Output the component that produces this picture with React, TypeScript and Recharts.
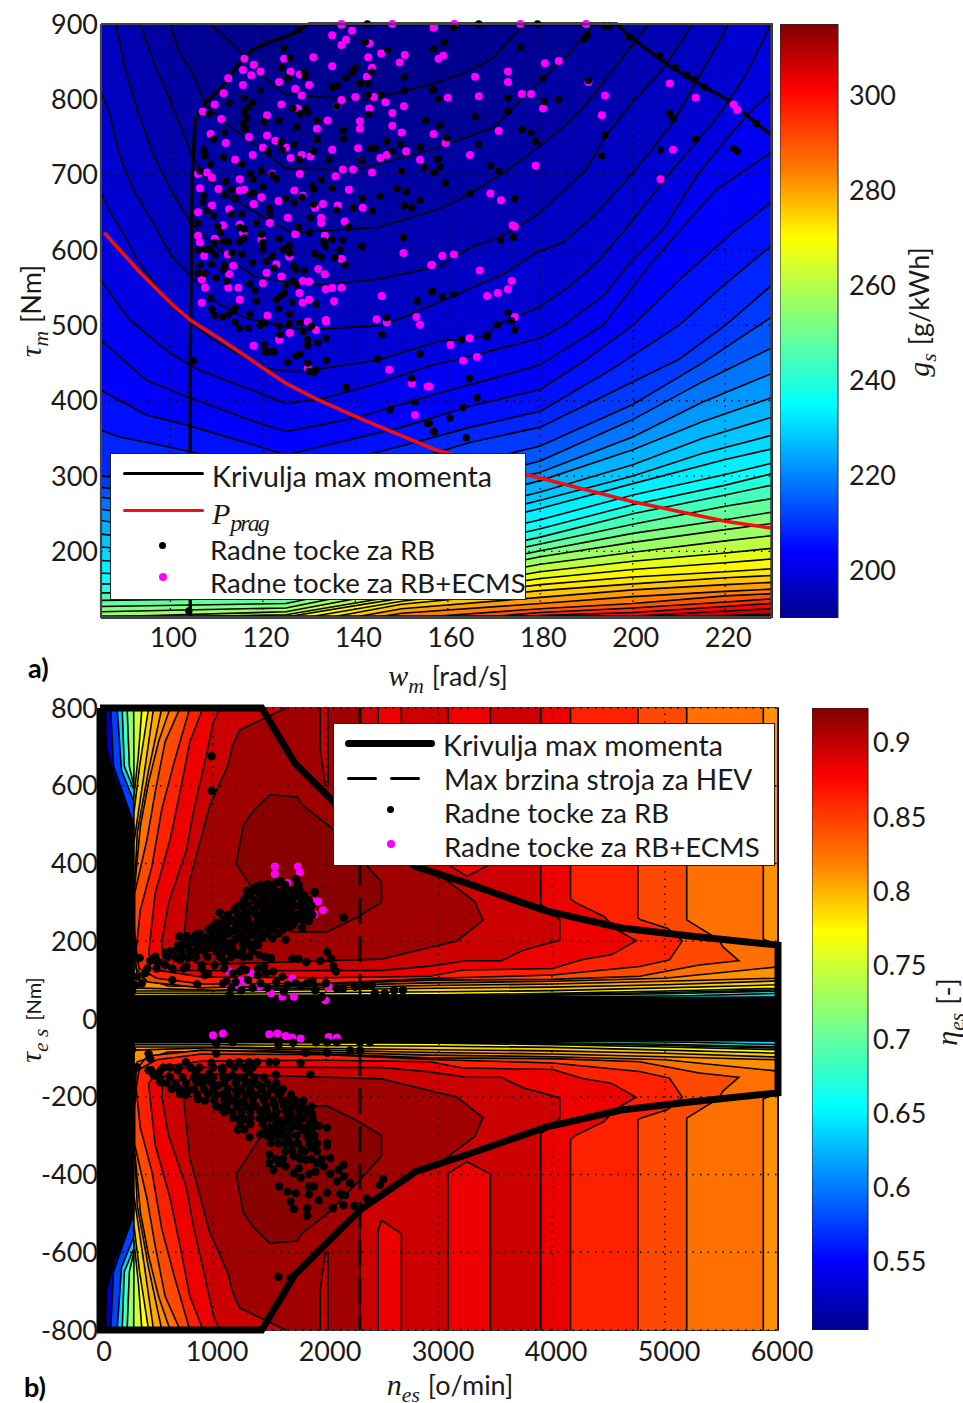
import { ScatterChart, Scatter, XAxis, YAxis, BarChart, Bar } from 'recharts'

type Pt = [number, number]

const FONT = "Lato, 'Open Sans', sans-serif"
const MATH = "'Liberation Serif', serif"

// ---- a) specific fuel consumption map ----
const wTicks = [100, 120, 140, 160, 180, 200, 220]
const tauMTicks = [200, 300, 400, 500, 600, 700, 800, 900]
const gsTicks = [200, 220, 240, 260, 280, 300]

const gsLevels = [
  192.5, 194.4, 196, 198, 200, 202, 204, 205.6, 207.5, 210, 212.5, 216, 220, 224, 227.5, 230, 232.5, 235, 237.5, 241,
  245, 249, 252.5, 256, 260, 265, 269, 271, 275, 280, 284, 289, 294, 299, 305, 311,
]

const gsLines: Pt[][] = [
  [[108.6, 900], [113.6, 872], [116.5, 854], [120, 830], [125, 806], [143, 799], [158, 823], [164, 836], [170, 856], [175, 890], [177, 900]],
  [[100, 900], [101.8, 863], [104.7, 836], [107.5, 794], [111.5, 770], [116.5, 748], [125, 708], [140, 706], [158, 736], [170, 763], [180.6, 828], [186.4, 861], [191.5, 900]],
  [[93.5, 900], [97, 839], [100, 799], [104.7, 725], [108, 694], [113, 670], [120.8, 641], [126, 623], [145, 630], [158, 654], [164.7, 674], [173.4, 708], [179, 734], [185, 763], [190, 794], [194.3, 828], [199.4, 868], [203.4, 900]],
  [[88.2, 900], [90, 845], [93, 783], [96.4, 725], [100, 681], [104.3, 636], [112, 592], [118, 565], [126, 557], [132, 554], [144.5, 561], [158, 578], [165.4, 605], [171, 616], [179, 645], [185, 678], [190, 707], [194, 750], [200, 796], [206.6, 841], [213, 900]],
  [[85, 810], [87, 778], [89, 725], [92, 680], [97, 628], [100, 594], [105, 561], [110, 530], [116, 510], [126, 497], [130, 494], [146, 500], [156, 525], [172.6, 570], [179, 596], [185, 610], [191.5, 645], [199.4, 698], [208.8, 770], [214.6, 832], [220.7, 900]],
  [[85, 676], [87, 650], [90, 620], [93, 585], [100, 527], [104.3, 505], [108.6, 483], [115, 461], [120.8, 443], [124.7, 439], [128.7, 439], [145, 454], [158, 479], [168, 485], [170.5, 500], [180, 525], [186.4, 552], [193, 588], [200, 640], [208.8, 708], [217.5, 770], [224, 828], [228.3, 880], [229.8, 900]],
  [[85, 560], [89, 525], [91.3, 507], [99.9, 463], [106.4, 440], [119.3, 410], [125, 396], [133, 403], [143.7, 421], [156, 446], [164.7, 459], [180, 483], [185, 500], [193.6, 539], [199.4, 583], [206.6, 628], [213.9, 699], [219.7, 743], [224.7, 779], [230, 810]],
  [[85, 480], [94.8, 427], [104.6, 403], [119.3, 370], [125, 359], [140, 377], [158, 410], [170, 430], [180, 448], [193.5, 500], [205, 590], [218, 680], [230, 730]],
  [[85, 414], [94.8, 381], [104.6, 366], [119.3, 339], [125, 328], [150, 365], [165, 393], [180, 415], [190, 455], [200, 500], [210, 560], [220, 615], [230, 664]],
  [[85, 361], [89, 352], [95.6, 344], [104.6, 332], [125, 301], [150, 340], [165, 365], [180, 386], [195, 440], [210, 500], [220, 555], [230, 606]],
  [[85, 300], [110, 290], [125, 278], [150, 318], [165, 345], [180, 365], [195, 410], [210, 455], [220, 500], [230, 553]],
  [[85, 285], [125, 255], [150, 295], [180, 340], [200, 395], [215, 450], [230, 511]],
  [[85, 272], [125, 235], [180, 320], [200, 375], [215, 425], [230, 470]],
  [[85, 256], [125, 218], [180, 305], [200, 352], [215, 398], [230, 436]],
  [[85, 241], [125, 205], [180, 294], [200, 335], [215, 372], [230, 404]],
  [[85, 223], [125, 195], [180, 279], [200, 315], [215, 350], [230, 378]],
  [[85, 206], [125, 185], [180, 268], [200, 300], [215, 330], [230, 354]],
  [[85, 188], [125, 175], [180, 257], [200, 290], [220, 322], [230, 336]],
  [[85, 171], [125, 165], [180, 242], [200, 275], [220, 302], [230, 317]],
  [[85, 157], [125, 155], [180, 230], [200, 262], [220, 288], [230, 303]],
  [[85, 145], [125, 146], [180, 219], [200, 250], [220, 275], [230, 288]],
  [[85, 135], [125, 138], [180, 210], [200, 236], [220, 260], [230, 270]],
  [[85, 127], [125, 131], [180, 201], [200, 224], [220, 242], [230, 252]],
  [[85, 120], [125, 125], [180, 193], [200, 212], [220, 229], [230, 237]],
  [[85, 113], [125, 120], [180, 183], [200, 199], [220, 214], [230, 221]],
  [[100, 113], [125, 116], [180, 173], [200, 187], [220, 198], [230, 204]],
  [[125, 113], [150, 138], [180, 164], [200, 176], [220, 185], [230, 190]],
  [[130, 113], [150, 134], [180, 156], [200, 166], [220, 173], [230, 177]],
  [[135, 113], [150, 130], [180, 148], [200, 157], [220, 165], [230, 168]],
  [[140, 113], [150, 124], [180, 139], [200, 149], [220, 156], [230, 159]],
  [[145, 113], [150, 118], [180, 131], [200, 140], [220, 147], [230, 150]],
  [[155, 113], [180, 124], [200, 131], [220, 141], [230, 144]],
  [[168, 113], [180, 119], [200, 125], [220, 133], [230, 137]],
  [[180, 115], [200, 119], [220, 127], [230, 131]],
  [[195, 113], [200, 114], [220, 121], [230, 124]],
  [[212, 113], [220, 115], [230, 117]],
]

const maxTorqueTop: Pt[] = [
  [104.3, 113], [104.3, 450], [104.7, 700], [105.4, 774], [107.5, 794], [111.5, 819], [114.3, 843], [118, 867], [121.5, 876], [125.8, 885], [130, 900],
  [196.5, 900], [199.4, 883], [208, 844], [215.3, 817], [220.4, 800], [230, 752],
]
const pProg: Pt[] = [
  [85.7, 623], [93.5, 570], [100, 530], [104.3, 507], [111.5, 479], [125, 423], [132, 401], [141.6, 375], [157.3, 335], [177, 302], [200, 266], [220, 240], [230, 231],
]

const ecmsTop: Pt[] = [
  [135, 885], [137, 899], [139.3, 891], [138, 879], [137, 872], [143, 874], [142.8, 856], [145.6, 861], [150.7, 859], [149.6, 849], [143.6, 842], [142.5, 830], [135, 844], [130.9, 856], [124.6, 854], [126, 837], [128, 833], [130, 819], [127, 814], [123.5, 823], [119.5, 837], [118, 846], [116, 854], [115.7, 839], [117.5, 832], [115.7, 819], [112.5, 828], [111.5, 808], [109.6, 793], [107, 784], [111, 774], [108.7, 754], [112, 742], [128.4, 805], [124, 793], [127.5, 788], [120.9, 779], [134, 772], [137, 799], [136, 791], [140, 803], [144, 803], [146.5, 796], [143, 788], [150.5, 791], [148, 782], [141, 771], [141, 761], [148, 765], [150, 756], [131.7, 761], [120.9, 752], [117, 750], [122.7, 745], [120, 736], [117.8, 726], [114, 720], [126, 722], [125, 736], [128.4, 726], [130.3, 724], [135, 733], [140.6, 735], [145.4, 722], [151, 731], [146.8, 726], [154, 720], [143.6, 703], [139.5, 707], [137.3, 707], [135.7, 698], [128, 701], [122, 701], [115, 694], [107.9, 703], [106, 701], [109, 696], [106.4, 682], [110.4, 681], [115, 679], [116, 680], [118, 661], [119.7, 670], [123.4, 665], [126.8, 679], [128.6, 672], [133, 661], [138.6, 680], [141.6, 656], [131.3, 656], [136.2, 659], [109, 659], [106, 650], [112.7, 654], [125.4, 643], [121.5, 636], [111.4, 633], [115, 634], [132.6, 643], [132.6, 636], [137.7, 638], [133.4, 619], [127, 621], [106, 619], [106.4, 610], [109.6, 615], [115.7, 623], [119.7, 614], [107.3, 592], [112.4, 594], [113.6, 579], [112.7, 568], [122.9, 581], [125.7, 591], [120.8, 570], [124, 565], [132, 575], [133.4, 568], [137, 588], [156.4, 580], [150.4, 596], [106.8, 561], [107.5, 550], [112.5, 550], [114.7, 550], [120, 556], [130, 558], [128.6, 559], [133.6, 548], [135, 550], [137, 550], [127.9, 543], [130, 534], [128.6, 530], [135.4, 532], [106.8, 530], [115, 534], [145.7, 539], [121, 513], [133.6, 507], [129.7, 505], [144.6, 508], [146.8, 504], [153.2, 511], [154, 501], [137, 900], [148, 900], [157, 896],
  [125.8, 490], [123.5, 481], [118, 473], [131.5, 494], [133.7, 505], [129.7, 443], [147.3, 441], [152.2, 423], [155.6, 419], [152.9, 381],
  [156.9, 895], [161.4, 900], [175.7, 900], [189.9, 900], [173, 837], [173, 823], [165.9, 830], [166.7, 804], [176, 807], [178, 807], [180.6, 788], [181, 848], [184, 851], [190.4, 823], [194, 805], [193.3, 779], [208, 821], [213.6, 802], [221.8, 793], [222.6, 786], [208.7, 733], [206, 694], [171, 758], [164.8, 726], [159.5, 742], [156.9, 754], [160, 802], [158, 854], [159, 858], [179, 712], [169.2, 675], [171.5, 666], [174, 633], [174.5, 631], [161.3, 594], [158.8, 592], [156.6, 580], [166.9, 573], [173.8, 559], [173, 548], [170.8, 543], [168.5, 539], [174.5, 511],
  [164.7, 483], [160.6, 474], [163.3, 453], [166.3, 458], [156, 419],
]

const rbTop: Pt[] = [
  [142.6, 900], [142.2, 876], [147, 865], [156.9, 867], [125.9, 855], [124.1, 842], [125.4, 828], [129, 836], [129.2, 830], [124.6, 868], [127.7, 892], [140, 842], [139.3, 836], [138, 828], [136, 818], [135, 816], [141, 821], [142.8, 821], [143.6, 836], [150.6, 830], [150.6, 812], [142.8, 806], [145.6, 806], [156.6, 812], [119.5, 812], [116, 802], [117.8, 796], [117, 790], [116, 784], [116.5, 776], [112.7, 795], [108.4, 781], [126.5, 788], [128, 781], [129.4, 788], [129.7, 783], [136, 791], [143, 780], [155.2, 772], [123.6, 772], [120.4, 770], [115.8, 768], [116.2, 761], [131.8, 772], [127.3, 763], [111.7, 756], [109.4, 747], [137.4, 759], [137.5, 748], [131.8, 747], [124, 743], [124.2, 733], [121.2, 731], [126.8, 740], [107.3, 733], [107.5, 725], [108.7, 714], [111.5, 723], [115.4, 714], [127.9, 720], [131, 731], [134.3, 720], [141.4, 719], [143.3, 735], [144.4, 735], [146.8, 744], [148, 731], [149.8, 740], [154, 737], [157.7, 721], [155, 710], [150, 705], [157, 703],
  [106.4, 705], [112, 691], [117.3, 701], [117.9, 694], [122, 700], [122.9, 694], [119.6, 705], [120, 684], [118, 676], [117.2, 674], [111.8, 673], [113.3, 680], [114, 668], [125, 668], [128.5, 670], [126.8, 663], [130.7, 685], [131, 681], [132.7, 693], [135, 682], [141.5, 668], [145.4, 671], [149, 682], [151, 677], [154, 666], [150.6, 659], [152.2, 656], [139.6, 656], [143.7, 652], [107.3, 672], [107, 663], [108, 652], [109.4, 645], [115.4, 648], [113.3, 648], [121.4, 656], [121.6, 648], [130.3, 643], [131, 661], [136, 653], [138.5, 630], [127.7, 630], [130, 623], [110.3, 631], [110.8, 623], [106, 636], [115, 630], [116, 628], [118.6, 636], [119.7, 621], [120, 610], [123.6, 615], [125.7, 606], [135, 614], [133.2, 612], [133.5, 605], [137.3, 613], [150.4, 617], [141.4, 605], [111.4, 611], [112.5, 611], [109.6, 610], [115, 611], [116, 616], [106, 600], [107.6, 601], [108.7, 601], [109.7, 593], [113.3, 596], [115.4, 594], [120, 601], [124.4, 601], [122, 592], [125.8, 596], [131.2, 595], [132.6, 591], [135.6, 590], [136.7, 600], [137.8, 580], [106.4, 580], [108.9, 581], [111.7, 581], [117.7, 583], [120.8, 585], [126.8, 579], [127.2, 574], [129, 573], [122.5, 576], [106, 569], [107.5, 569], [109.9, 563], [111.5, 574], [112.2, 559], [126.5, 559], [127.2, 554], [125, 554], [117.2, 555], [118.3, 546], [124.7, 543], [124, 539], [122.9, 534], [118.6, 532], [126.4, 531], [131.5, 528], [153.4, 532], [156.6, 545], [108.7, 536], [109, 521], [114, 523], [113.6, 519], [112.5, 514], [109.6, 513], [111.3, 511], [117.2, 515], [123.5, 522], [125.8, 515], [114, 504], [115, 496], [116.9, 496], [120.4, 503], [119.4, 500], [123.6, 499], [125.8, 503], [128, 504], [130.5, 499], [146.8, 510], [145.7, 488],
  [123.7, 488], [128.7, 492], [129.7, 481], [129.7, 473], [131.9, 477], [133.7, 483], [145.9, 488], [120.3, 474], [120.5, 465], [121.5, 465], [122.5, 465], [127.2, 459], [128, 462], [125.4, 451], [133.7, 453], [129.7, 450], [130, 439], [131.5, 441], [131, 437], [144.8, 455], [154, 462], [105, 453], [138, 418], [152.2, 430], [152.9, 398], [147.5, 388], [155.6, 370], [157.1, 359], [104, 121],
  [166.7, 900], [179.4, 900], [193.8, 897], [195, 897], [161.3, 895], [159.2, 876], [157, 867], [175.7, 869], [189.5, 880], [190.2, 885], [199.3, 883], [205.8, 858], [209.2, 842], [211.7, 832], [213.3, 826], [215.5, 816], [226.7, 768], [180.6, 828], [190.4, 825], [156.9, 813], [158, 800], [173, 802], [173, 784], [180.9, 797], [184, 800], [165.9, 777], [158.3, 765], [159.8, 749], [166.7, 740], [176, 760], [178, 756], [179, 744], [194, 752], [193.3, 725], [208, 781], [208.8, 774], [213.6, 747], [206, 733], [221.8, 735], [222.6, 731], [158, 721], [158.4, 710], [157, 703], [159.5, 689], [169.2, 712], [171, 705], [164.8, 675], [174.5, 668], [174.2, 617], [171.5, 613], [156.6, 545], [158.8, 538], [161.3, 541], [173, 517], [173.8, 506], [170.8, 501], [174.5, 494], [168.5, 487],
  [162.9, 481], [168.5, 485], [164.7, 430], [166.3, 404], [163.3, 391], [160.5, 377], [157, 359], [164, 351], [156, 370],
]

// ---- b) efficiency map (upper half, the lower half is its mirror image) ----
const nTicks = [0, 1000, 2000, 3000, 4000, 5000, 6000]
const tauEsTicks = [-800, -600, -400, -200, 0, 200, 400, 600, 800]
const etaTicks = [0.55, 0.6, 0.65, 0.7, 0.75, 0.8, 0.85, 0.9]

const etaColors = [
  '#0040ff', '#00d0ff', '#40ffc0', '#90ff70', '#d0ff30', '#ffff00', '#ffd000', '#ffa800', '#ff9000', '#ff7000', '#ff4800', '#ff2000', '#ee0000', '#cc0000', '#a00000',
]
const etaLines: Pt[][] = [
  [[94, 800], [120, 650], [300, 500], [300, 50], [6000, 50], [6000, 800]],
  [[152, 800], [190, 640], [300, 560], [300, 54], [4500, 54], [5200, 55], [6000, 57], [6000, 800]],
  [[196, 800], [215, 650], [300, 590], [300, 55], [3000, 56], [4500, 58], [5200, 60], [6000, 66], [6000, 800]],
  [[240, 800], [260, 650], [300, 600], [300, 56], [3000, 58], [4000, 61], [5000, 65], [6000, 72], [6000, 800]],
  [[298, 800], [300, 640], [300, 58], [3000, 60], [4000, 63], [5000, 68], [6000, 75], [6000, 800]],
  [[371, 800], [340, 680], [298, 564], [298, 60], [3000, 62], [4000, 66], [5000, 72], [6000, 79], [6000, 800]],
  [[430, 800], [350, 650], [300, 530], [300, 66], [1000, 66], [3000, 70], [4000, 73], [5000, 80], [6000, 88], [6000, 800]],
  [[474, 800], [400, 650], [298, 450], [298, 72], [1000, 72], [3000, 79], [4000, 82], [5000, 88], [6000, 98], [6000, 800]],
  [[547, 800], [430, 640], [330, 480], [300, 300], [300, 80], [1000, 74], [2917, 86], [4006, 90], [5000, 97], [6000, 105], [6000, 800]],
  [[620, 800], [518, 713], [430, 609], [357, 496], [307, 340], [300, 180], [330, 110], [600, 85], [1500, 82], [2917, 93], [4006, 97], [5000, 105], [6000, 134], [6000, 190], [5870, 205], [5870, 800]],
  [[708, 800], [576, 713], [488, 583], [415, 461], [307, 323], [307, 236], [320, 130], [420, 95], [900, 80], [1500, 85], [2917, 100], [4006, 102], [4775, 110], [5305, 139], [5653, 150], [5511, 186], [5481, 203], [5192, 255], [5192, 800]],
  [[795, 800], [664, 669], [547, 540], [459, 392], [357, 280], [320, 180], [345, 130], [500, 105], [900, 90], [2000, 92], [2917, 104], [4006, 113], [4775, 135], [5040, 152], [5152, 201], [5024, 233], [4785, 255], [4760, 260], [4760, 800]],
  [[912, 800], [795, 713], [708, 583], [620, 461], [488, 323], [430, 167], [520, 125], [900, 108], [2000, 106], [2917, 110], [3212, 126], [4006, 130], [4272, 153], [4523, 165], [4745, 201], [4553, 233], [4464, 263], [4204, 300], [4164, 310], [4164, 800]],
  [[1058, 800], [1000, 760], [927, 660], [825, 531], [766, 436], [605, 297], [547, 200], [560, 150], [660, 125], [1500, 124], [2500, 125], [2917, 136], [3242, 150], [3552, 150], [3744, 177], [4069, 203], [4069, 255], [3951, 285], [3900, 295], [3900, 800]],
  [[1643, 800], [1234, 743], [1175, 704], [1132, 653], [971, 549], [795, 358], [737, 200], [745, 165], [850, 145], [1000, 141], [2491, 154], [2988, 189], [3154, 200], [3390, 254], [3316, 302], [3006, 370], [2800, 395], [2400, 470], [2301, 500], [2301, 800]],
]
const etaPeak: Pt[] = [
  [1503, 577], [1746, 571], [1789, 551], [2038, 494], [2374, 390], [2491, 352], [2491, 300], [2272, 261], [2009, 224], [1702, 224], [1555, 243], [1205, 399], [1269, 499], [1351, 533], [1503, 577],
]
// lighter islands left in the region above the torque curve
const islandC3: Pt[][] = [
  [[2462, 800], [2462, 544], [2491, 518], [2667, 552], [2667, 800]],
  [[3080, 800], [3080, 397], [3248, 367], [3455, 399], [3455, 800]],
]
const islandC2: Pt[] = [[1950, 800], [1950, 695], [1994, 600], [2018, 600], [2018, 800]]

const blackBand: Pt[] = [
  [0, 800], [50, 800], [55, 700], [130, 620], [215, 565], [298, 500], [300, 55], [6000, 54], [6000, -54], [300, -55], [298, -500], [215, -565], [130, -620], [55, -700], [50, -800], [0, -800],
]
const maxTorqueUpper: Pt[] = [
  [0, 800], [1431, 800], [1724, 658], [2302, 491], [2791, 393], [3236, 350], [3947, 278], [4613, 234], [5200, 214], [6000, 190],
]
const hevSpeed: Pt[] = [[2301, 800], [2301, -800]]

const rbEs: Pt[] = [
  [702, 213], [766, 213], [848, 217], [927, 210], [985, 202], [737, 191], [839, 196], [942, 191], [1044, 204], [1102, 217], [1175, 226], [1263, 235], [795, 174], [883, 178], [971, 183], [1073, 183], [1161, 196], [1249, 209], [1336, 217], [1424, 226], [1512, 235], [1599, 243], [1687, 239], [649, 174], [576, 170], [708, 152], [781, 157], [898, 139], [1015, 139], [1102, 148], [1219, 165], [1322, 161], [1409, 165], [1512, 157], [1132, 252], [1058, 274], [1029, 248], [985, 235], [1205, 287], [1292, 313], [1351, 330], [1380, 339], [1482, 347], [1570, 352], [1599, 354], [1263, 261], [1336, 278], [1409, 295], [1482, 313], [1556, 326], [1643, 322], [1716, 313], [1760, 291], [1819, 278], [1848, 252], [1789, 235], [1672, 287], [1585, 287], [1497, 278], [1409, 261], [1322, 243], [1205, 235], [1088, 235], [1234, 217], [1175, 252], [1526, 295], [1614, 304], [1702, 261], [1614, 261], [1526, 252], [1439, 243], [1351, 235], [1439, 209], [1643, 204], [1526, 207], [1351, 191], [1263, 191], [1175, 178], [1073, 165], [1117, 191], [1512, 270], [1643, 270], [1760, 261], [1731, 330], [1746, 347], [1901, 326], [444, 150], [518, 146], [576, 139], [351, 157], [673, 157], [766, 135], [927, 113], [956, 117], [640, 100], [860, 89], [1088, 92], [1175, 117], [1234, 122], [1292, 126], [1395, 113], [1468, 117], [1532, 122], [1614, 109], [1453, 135], [1512, 155], [1702, 155], [1754, 155], [1825, 146], [1950, 150], [2009, 172], [2044, 155], [2067, 135], [2088, 122], [2155, 261], [988, 676], [988, 587], [1737, 360], [1760, 345], [1599, 353], [1497, 345], [1386, 340], [1898, 326],
  [1161, 80], [1249, 74], [1351, 80], [1482, 80], [1628, 70], [1731, 92], [1833, 92], [1906, 74], [1965, 57], [2096, 79], [2257, 83], [2345, 87], [2404, 87], [2433, 66], [2520, 66], [2602, 74], [2681, 74], [1146, 61], [327, 109], [401, 118], [313, 87], [371, 92], [284, 70],
  [453, -132], [526, -137], [614, -124], [687, -132], [760, -111], [848, -137], [965, -141], [1083, -132], [1170, -145], [1316, -137], [1556, -143], [1863, -143], [1231, -111], [1316, -111], [1390, -111], [1497, -111], [1556, -111], [1775, -113], [1146, -113], [985, -113], [430, -89], [532, -163], [635, -180], [708, -193], [781, -184], [868, -206], [956, -193], [854, -163], [942, -158], [1044, -171], [1132, -150], [1219, -154], [1322, -163], [1409, -171], [1512, -180], [1599, -189], [1658, -209], [1731, -223], [1819, -232], [1877, -245], [1936, -275], [2009, -280], [1073, -228], [1175, -254], [1278, -258], [1278, -284], [1322, -304], [1418, -297], [1146, -210], [1234, -215], [1336, -228], [1424, -236], [1512, -254], [1599, -262], [1088, -193], [1205, -184], [1322, -193], [1439, -202], [1541, -219], [1643, -236], [1512, -280], [1526, -301], [1512, -319], [1497, -349], [1497, -371], [1532, -388], [1585, -371], [1643, -379], [1672, -301], [1702, -323], [1731, -275], [1746, -254], [1819, -280], [1789, -336], [1877, -332], [1848, -310], [2009, -319], [2009, -327], [2038, -358], [1716, -353], [1819, -362], [1921, -371], [1980, -379], [2155, -375], [2111, -388], [1760, -384], [1716, -396], [1775, -408], [1848, -399], [1906, -393], [2038, -398], [2097, -418], [2155, -405], [2213, -422], [1585, -431], [1658, -444], [1731, -448], [1848, -431], [1892, -431], [1848, -451], [2009, -447], [1936, -466], [2126, -450], [2170, -453], [1687, -470], [1716, -489], [1833, -487], [1833, -506], [2061, -487], [2155, -479], [2251, -481], [2360, -461], [2477, -427], [2506, -412], [1579, -663], [1687, -667],
  [1029, -63], [1175, -59], [1579, -66], [1708, -61], [1912, -60], [2009, -60], [2096, -60], [2389, -60], [2301, -60], [1819, -87], [2009, -87], [2213, -81], [2301, -81], [1029, -89], [284, -79], [444, -102], [327, -124], [430, -132], [474, -145],
]
// the dense part of the upper cloud, read row by row
const rbEsDenseUpper: Pt[] = [
  [1420, 345], [1530, 345], [1640, 345], [1300, 330], [1390, 330], [1465, 330], [1540, 330], [1610, 330], [1690, 330], [1765, 330],
  [1330, 318], [1430, 318], [1510, 318], [1580, 318], [1660, 318], [1730, 318], [1805, 318],
  [1270, 305], [1365, 305], [1450, 305], [1550, 305], [1630, 305], [1695, 305], [1780, 305], [1850, 305],
  [1240, 292], [1310, 292], [1390, 292], [1470, 292], [1560, 292], [1640, 292], [1720, 292], [1800, 292], [1870, 292],
  [1190, 280], [1280, 280], [1360, 280], [1440, 280], [1530, 280], [1600, 280], [1680, 280], [1790, 280], [1850, 280],
  [1130, 268], [1220, 268], [1300, 268], [1380, 268], [1460, 268], [1555, 268], [1660, 268], [1730, 268], [1810, 268], [1880, 268],
  [1090, 255], [1160, 255], [1250, 255], [1310, 255], [1400, 255], [1480, 255], [1570, 255], [1650, 255], [1740, 255], [1800, 255],
  [1050, 243], [1120, 243], [1220, 243], [1290, 243], [1370, 243], [1470, 243], [1560, 243], [1620, 243], [1710, 243],
  [960, 230], [1030, 230], [1130, 230], [1220, 230], [1290, 230], [1390, 230], [1450, 230], [1540, 230], [1620, 230],
  [880, 220], [990, 220], [1060, 220], [1140, 220], [1260, 220], [1370, 220], [1480, 220], [1580, 220],
  [740, 205], [810, 205], [890, 205], [1000, 205], [1090, 205], [1200, 205], [1300, 205], [1390, 205],
  [690, 190], [780, 190], [870, 190], [990, 190], [1050, 190], [1170, 190], [1310, 190], [1400, 190],
  [620, 175], [720, 175], [840, 175], [920, 175], [1030, 175], [1130, 175], [1260, 175], [1350, 175],
  [490, 160], [600, 160], [730, 160], [850, 160], [950, 160], [1060, 160], [1160, 160], [1270, 160], [1460, 160],
  [420, 130], [500, 130], [640, 130], [740, 130], [900, 130], [1100, 130], [1260, 130], [1400, 130],
  [1120, 98], [1200, 95], [1310, 100], [1420, 92], [1560, 95], [1660, 88], [1780, 85], [1880, 98], [2000, 92], [2150, 78],
]
const rbEsDenseLower: Pt[] = [
  [560, -125], [700, -125], [800, -125], [880, -125], [1000, -125], [1080, -125], [1190, -125], [1280, -125], [1350, -125],
  [520, -150], [620, -150], [730, -150], [830, -150], [900, -150], [1000, -150], [1090, -150], [1270, -150], [1370, -150], [1450, -150],
  [590, -165], [670, -165], [760, -165], [900, -165], [990, -165], [1100, -165], [1200, -165], [1290, -165], [1370, -165], [1480, -165], [1560, -165],
  [700, -180], [830, -180], [920, -180], [1000, -180], [1130, -180], [1250, -180], [1330, -180], [1430, -180], [1550, -180], [1620, -180],
  [760, -195], [860, -195], [1030, -195], [1130, -195], [1210, -195], [1290, -195], [1380, -195], [1480, -195], [1580, -195], [1690, -195],
  [930, -210], [1010, -210], [1100, -210], [1180, -210], [1270, -210], [1350, -210], [1450, -210], [1530, -210], [1610, -210], [1730, -210], [1800, -210],
  [1030, -225], [1120, -225], [1210, -225], [1290, -225], [1380, -225], [1470, -225], [1550, -225], [1630, -225], [1700, -225], [1790, -225], [1870, -225],
  [1100, -240], [1170, -240], [1250, -240], [1330, -240], [1420, -240], [1480, -240], [1560, -240], [1680, -240], [1760, -240], [1840, -240],
  [1230, -255], [1330, -255], [1410, -255], [1470, -255], [1550, -255], [1650, -255], [1700, -255], [1800, -255], [1880, -255],
  [1240, -270], [1330, -270], [1440, -270], [1560, -270], [1620, -270], [1680, -270], [1760, -270], [1850, -270], [1900, -270],
  [1220, -285], [1460, -285], [1540, -285], [1610, -285], [1680, -285], [1780, -285], [1870, -285],
  [1480, -300], [1560, -300], [1620, -300], [1740, -300], [1830, -300], [1900, -300],
  [1580, -320], [1640, -320], [1680, -320], [1750, -320], [1850, -320], [1920, -320],
  [1640, -340], [1700, -340], [1780, -340], [1810, -340], [1920, -340],
  [1560, -360], [1620, -360], [1770, -360], [1870, -360], [1960, -360],
]
const ecmsEs: Pt[] = [
  [1547, 392], [1751, 392], [1547, 373], [1769, 377], [1658, 350], [1687, 317], [1722, 311], [1804, 295], [1883, 302], [1930, 302], [1974, 280], [1898, 269], [1146, 122], [1249, 100], [1292, 96], [1219, 87], [1336, 118], [1409, 83], [1512, 66], [1614, 57], [1702, 105], [1716, 57], [2023, 83], [1994, 48], [1117, 92],
  [1000, -42], [1088, -37], [1497, -39], [1570, -37], [1643, -44], [1702, -48], [2023, -46], [2096, -48], [1775, -50],
]

const jetStops: [number, string][] = [
  [0, '#00008f'], [0.11, '#0000ff'], [0.36, '#00ffff'], [0.5, '#80ff80'], [0.64, '#ffff00'], [0.75, '#ff8000'], [0.89, '#ff0000'], [1, '#800000'],
]

function hex(v: number) {
  return Math.round(Math.min(255, Math.max(0, v))).toString(16).padStart(2, '0')
}
function jet(t: number) {
  const r = 1.5 - Math.abs(4 * t - 3)
  const g = 1.5 - Math.abs(4 * t - 2)
  const b = 1.5 - Math.abs(4 * t - 1)
  return `#${hex(r * 255)}${hex(g * 255)}${hex(b * 255)}`
}
const rows = (pts: Pt[]) => pts.map(([x, y]) => ({ x, y }))
const flip = (pts: Pt[]): Pt[] => pts.map(([x, y]) => [x, -y])
const noDot = () => <g />

// closes a fuel map contour down to the bottom of the plot, so later bands paint over earlier ones
function gsBand(line: Pt[]): Pt[] {
  const first = line[0]
  const last = line[line.length - 1]
  return [
    ...(first[1] === 900 ? ([[85, 900]] as Pt[]) : []),
    ...line,
    ...(last[1] === 900 ? ([[230, 900]] as Pt[]) : []),
    [230, 113],
    [85, 113],
  ]
}

function poly(key: string, pts: Pt[], fill: string, stroke = '#000', strokeWidth = 1.6, dash?: string) {
  return (
    <Scatter
      key={key}
      data={rows(pts)}
      line={{ stroke, strokeWidth, fill, strokeDasharray: dash }}
      shape={noDot}
      isAnimationActive={false}
    />
  )
}
function dots(key: string, pts: Pt[], fill: string, r: number) {
  return (
    <Scatter
      key={key}
      data={rows(pts)}
      shape={(p: any) => <circle cx={p.cx} cy={p.cy} r={r} fill={fill} />}
      isAnimationActive={false}
    />
  )
}

const tickStyle = { fontSize: 27, fill: '#1a1a1a', fontFamily: FONT }

function ColorBar({ id, domain, ticks, left, top, w, h, margin }: any) {
  return (
    <div style={{ position: 'absolute', left, top }}>
      <BarChart width={w + 70} height={h} data={[{ b: 'c', r: domain }]} margin={{ top: 0, right: 0, bottom: 0, left: 0 }} barCategoryGap={0}>
        <defs>
          <linearGradient id={id} x1="0" y1="1" x2="0" y2="0">
            {jetStops.map(([o, c]) => (
              <stop key={o} offset={o} stopColor={c} />
            ))}
          </linearGradient>
        </defs>
        <XAxis dataKey="b" hide />
        <YAxis orientation="right" type="number" domain={domain} ticks={ticks} width={70} interval={0} tick={tickStyle} tickLine={false} axisLine={false} tickMargin={margin} tickFormatter={(v: number) => String(v)} />
        <Bar dataKey="r" fill={`url(#${id})`} stroke="#222" strokeWidth={1} isAnimationActive={false} />
      </BarChart>
    </div>
  )
}

function Txt({ x, y, rot, size = 27, children }: any) {
  return (
    <div
      style={{
        position: 'absolute',
        left: x,
        top: y,
        transform: `translate(-50%,-50%)${rot ? ` rotate(${rot}deg)` : ''}`,
        fontFamily: FONT,
        fontSize: size,
        color: '#1a1a1a',
        whiteSpace: 'nowrap',
        lineHeight: 1.7,
      }}
    >
      {children}
    </div>
  )
}
const Sym = ({ s, sub, size = 30 }: any) => (
  <span style={{ fontFamily: MATH, fontStyle: 'italic', fontSize: size, marginRight: 8 }}>
    {s}
    <sub style={{ fontSize: size * 0.72, lineHeight: 0 }}>{sub}</sub>
  </span>
)

function LegendBox({ left, top, w, h, children }: any) {
  return (
    <div style={{ position: 'absolute', left, top, width: w, height: h, background: '#fff', border: '1.5px solid #222', boxSizing: 'border-box' }}>
      {children}
    </div>
  )
}
function LegendText({ x, y, size = 27.6, children }: any) {
  return (
    <div style={{ position: 'absolute', left: x, top: y, fontFamily: FONT, fontSize: size, lineHeight: 1, color: '#1a1a1a', whiteSpace: 'nowrap', transform: 'translateY(-50%)' }}>
      {children}
    </div>
  )
}
function Swatch({ x, y, w, h, bg }: any) {
  return <div style={{ position: 'absolute', left: x, top: y - h / 2, width: w, height: h, background: bg, borderRadius: h / 2 }} />
}

export default function App() {
  return (
    <div style={{ position: 'absolute', left: 0, top: 0, width: 963, height: 1403, background: '#fff', overflow: 'hidden' }}>
      {/* a) */}
      <div style={{ position: 'absolute', left: 0, top: 0 }}>
        <ScatterChart width={963} height={670} margin={{ top: 24, right: 191.5, bottom: 13, left: 41 }}>
          <XAxis type="number" dataKey="x" domain={[85, 230]} ticks={wTicks} interval={0} height={40} tick={{ ...tickStyle, dx: 3 }} tickLine={false} axisLine={false} tickMargin={5} />
          <YAxis type="number" dataKey="y" domain={[113, 900]} ticks={tauMTicks} interval={0} width={60} tick={tickStyle} tickLine={false} axisLine={false} tickMargin={-3} />
          {poly('base', [[85, 900], [230, 900], [230, 113], [85, 113]], '#00008f')}
          {gsLines.map((l, i) => poly(`gs${i}`, gsBand(l), jet((gsLevels[i] - 190) / 125)))}
          {wTicks.map(v => poly(`gx${v}`, [[v, 113], [v, 900]], 'none', '#000', 1.3, '1.5 6'))}
          {tauMTicks.map(v => poly(`gy${v}`, [[85, v], [230, v]], 'none', '#000', 1.3, '1.5 6'))}
          {poly('torque', maxTorqueTop, 'none', '#000', 3.4)}
          {poly('prog', pProg, 'none', '#f01010', 3.6)}
          {dots('ecms', ecmsTop, '#ff00ff', 4)}
          {dots('rb', rbTop, '#000', 3.7)}
          {poly('floor', [[85, 113], [230, 113]], 'none', '#000', 3.5)}
          {poly('frame', [[85, 900], [230, 900], [230, 113], [85, 113], [85, 900]], 'none', '#444', 2.2)}
        </ScatterChart>
      </div>
      <ColorBar id="jetA" domain={[190, 315]} ticks={gsTicks} left={780} top={24} w={58} h={594} margin={5} />
      <LegendBox left={110} top={453} w={416} h={147}>
        <Swatch x={12} y={19} w={81} h={3} bg="#000" />
        <Swatch x={12} y={56} w={81} h={3} bg="#f01010" />
        <Swatch x={48} y={91} w={7} h={7} bg="#000" />
        <Swatch x={48} y={123} w={8} h={8} bg="#ff00ff" />
        <LegendText x={101} y={22} size={28.6}>Krivulja max momenta</LegendText>
        <LegendText x={101} y={60}>
          <span style={{ fontFamily: MATH, fontStyle: 'italic', fontSize: 30 }}>
            P<sub style={{ fontSize: 24, letterSpacing: -2, lineHeight: 0 }}>prag</sub>
          </span>
        </LegendText>
        <LegendText x={99} y={96}>Radne tocke za RB</LegendText>
        <LegendText x={99} y={129}>Radne tocke za RB+ECMS</LegendText>
      </LegendBox>
      <Txt x={30} y={311} rot={-90}>
        <Sym s="τ" sub="m" />[Nm]
      </Txt>
      <Txt x={448} y={675}>
        <Sym s="w" sub="m" />[rad/s]
      </Txt>
      <Txt x={918} y={312} rot={-90}>
        <Sym s="g" sub="s" />[g/kWh]
      </Txt>
      <div style={{ position: 'absolute', left: 28, top: 654, fontFamily: FONT, fontWeight: 700, fontSize: 27, lineHeight: 1 }}>a)</div>

      {/* b) */}
      <div style={{ position: 'absolute', left: 0, top: 690 }}>
        <ScatterChart width={963} height={700} margin={{ top: 18, right: 185, bottom: 20, left: 40 }}>
          <XAxis type="number" dataKey="x" domain={[0, 6000]} ticks={nTicks} interval={0} height={40} tick={{ ...tickStyle, dx: 4 }} tickLine={false} axisLine={false} tickMargin={6} />
          <YAxis type="number" dataKey="y" domain={[-800, 800]} ticks={tauEsTicks} interval={0} width={60} tick={tickStyle} tickLine={false} axisLine={false} tickMargin={-4} />
          {poly('base', [[0, 800], [6000, 800], [6000, -800], [0, -800]], '#0000c0')}
          {etaLines.map((l, i) => poly(`up${i}`, l, etaColors[i]))}
          {etaLines.map((l, i) => poly(`dn${i}`, flip(l), etaColors[i]))}
          {islandC3.map((l, i) => poly(`t${i}`, l, '#ee0000'))}
          {islandC3.map((l, i) => poly(`tf${i}`, flip(l), '#ee0000'))}
          {poly('s1', islandC2, '#cc0000')}
          {poly('s2', flip(islandC2), '#cc0000')}
          {poly('blob1', etaPeak, '#880000')}
          {poly('blob2', flip(etaPeak), '#880000')}
          {poly('band', blackBand, '#000')}
          {nTicks.slice(1, 6).map(v => poly(`gx${v}`, [[v, -800], [v, 800]], 'none', '#000', 1.3, '1.5 6'))}
          {tauEsTicks.map(v => poly(`gy${v}`, [[0, v], [6000, v]], 'none', '#000', 1.3, '1.5 6'))}
          {poly('hev', hevSpeed, 'none', '#000', 2.8, '26 12')}
          {dots('ecms', ecmsEs, '#ff00ff', 4)}
          {dots('rb', rbEs, '#000', 4.2)}
          {dots('rbu', rbEsDenseUpper, '#000', 4.2)}
          {dots('rbl', rbEsDenseLower, '#000', 4.2)}
          {poly('torque', [...maxTorqueUpper, ...flip(maxTorqueUpper).reverse(), [0, 800]], 'none', '#000', 7)}
        </ScatterChart>
      </div>
      <ColorBar id="jetB" domain={[0.504, 0.9235]} ticks={etaTicks} left={812} top={708} w={56} h={622} margin={-1} />
      <LegendBox left={333} top={723} w={442} h={143}>
        <Swatch x={11} y={19} w={90} h={7} bg="#000" />
        <Swatch x={13} y={54} w={30} h={3} bg="#000" />
        <Swatch x={56} y={54} w={30} h={3} bg="#000" />
        <Swatch x={53} y={85} w={7} h={7} bg="#000" />
        <Swatch x={53} y={120} w={8} h={8} bg="#ff00ff" />
        <LegendText x={109} y={21} size={28.6}>Krivulja max momenta</LegendText>
        <LegendText x={110} y={55} size={28}>Max brzina stroja za HEV</LegendText>
        <LegendText x={110} y={89}>Radne tocke za RB</LegendText>
        <LegendText x={110} y={123}>Radne tocke za RB+ECMS</LegendText>
      </LegendBox>
      <Txt x={30} y={1020} rot={-90} size={20}>
        <Sym s="τ" sub="e s" size={30} />[Nm]
      </Txt>
      <Txt x={450} y={1384}>
        <Sym s="n" sub="es" />[o/min]
      </Txt>
      <Txt x={946} y={1012} rot={-90}>
        <Sym s="η" sub="es" />[-]
      </Txt>
      <div style={{ position: 'absolute', left: 24, top: 1373, fontFamily: FONT, fontWeight: 700, fontSize: 27, lineHeight: 1 }}>b)</div>
    </div>
  )
}
